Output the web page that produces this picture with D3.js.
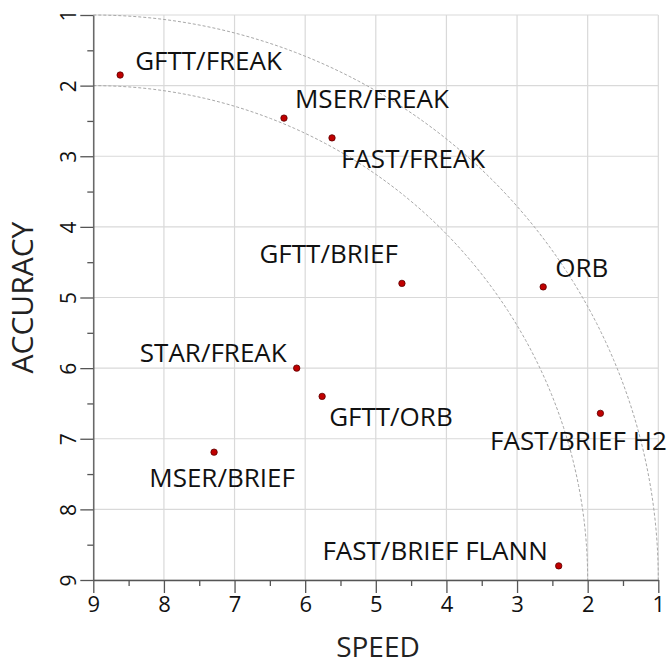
<!DOCTYPE html>
<html>
<head>
<meta charset="utf-8">
<script src="https://cdn.jsdelivr.net/npm/d3@7"></script>
<style>
  body { margin: 0; background: #fff; }
  svg { display: block; font-family: "Open Sans", sans-serif; }
</style>
</head>
<body>
<div id="container"></div>
<script>
// data
var names = ['GFTT/FREAK', 'MSER/FREAK', 'FAST/FREAK', 'GFTT/BRIEF', 'ORB',
  'STAR/FREAK', 'GFTT/ORB', 'MSER/BRIEF', 'FAST/BRIEF H2', 'FAST/BRIEF FLANN']
var speed = [8.62, 6.30, 5.62, 4.63, 2.63, 6.12, 5.76, 7.29, 1.82, 2.41]
var accuracy = [1.85, 2.46, 2.74, 4.80, 4.85, 6.00, 6.40, 7.19, 6.64, 8.80]
var majorTicks = [9, 8, 7, 6, 5, 4, 3, 2, 1]
var minorTicks = [8.5, 7.5, 6.5, 5.5, 4.5, 3.5, 2.5, 1.5]
var arcRadii = [8, 7]

// label placement, in px from the dot
var labelPos = [
  { dx: 15, dy: -5, anchor: 'start' },
  { dx: 11, dy: -10, anchor: 'start' },
  { dx: 9, dy: 30, anchor: 'start' },
  { dx: -4, dy: -20, anchor: 'end' },
  { dx: 12, dy: -10, anchor: 'start' },
  { dx: -10, dy: -6, anchor: 'end' },
  { dx: 7, dy: 30, anchor: 'start' },
  { dx: 8, dy: 35, anchor: 'middle' },
  { dx: -22, dy: 37, anchor: 'middle' },
  { dx: -11, dy: -6, anchor: 'end' }
]

var width = 668, height = 665
var m = { left: 93.3, right: 658.3, top: 15, bottom: 580 }

var svg = d3.select('#container').append('svg')
  .attr('width', width)
  .attr('height', height)

var x = d3.scaleLinear().domain([9, 1]).range([m.left, m.right])
var y = d3.scaleLinear().domain([1, 9]).range([m.top, m.bottom])

// grid
var grid = svg.append('g').attr('class', 'grid')
grid.selectAll('.gx').data(majorTicks).enter().append('line')
  .attr('x1', d => x(d)).attr('x2', d => x(d))
  .attr('y1', m.top).attr('y2', m.bottom)
  .attr('stroke', '#d9d9d9').attr('stroke-width', 1.2)
grid.selectAll('.gy').data(majorTicks).enter().append('line')
  .attr('y1', d => y(d)).attr('y2', d => y(d))
  .attr('x1', m.left).attr('x2', m.right)
  .attr('stroke', '#d9d9d9').attr('stroke-width', 1.2)

// dashed quarter arcs centred at (9, 9)
var arcLine = d3.line().x(d => d[0]).y(d => d[1])
arcRadii.forEach(function (r) {
  var pts = d3.range(0, 91).map(function (a) {
    var t = a * Math.PI / 180
    return [x(9 - r * Math.sin(t)), y(9 - r * Math.cos(t))]
  })
  svg.append('path')
    .attr('d', arcLine(pts))
    .attr('fill', 'none')
    .attr('stroke', '#a8a8a8')
    .attr('stroke-width', 1)
    .attr('stroke-dasharray', '3,2')
})

// axes
var axisColor = '#555'
var xAxis = svg.append('g')
  .attr('transform', 'translate(0,' + m.bottom + ')')
  .call(d3.axisBottom(x).tickValues(majorTicks).tickSize(13).tickSizeOuter(0).tickPadding(3))
var xMinor = svg.append('g')
  .attr('transform', 'translate(0,' + m.bottom + ')')
  .call(d3.axisBottom(x).tickValues(minorTicks).tickSize(6).tickSizeOuter(0).tickFormat(''))

var yAxis = svg.append('g')
  .attr('transform', 'translate(' + m.left + ',0)')
  .call(d3.axisLeft(y).tickValues(majorTicks).tickSize(13).tickSizeOuter(0))
var yMinor = svg.append('g')
  .attr('transform', 'translate(' + m.left + ',0)')
  .call(d3.axisLeft(y).tickValues(minorTicks).tickSize(6).tickSizeOuter(0).tickFormat(''))

svg.selectAll('.domain, .tick line').attr('stroke', axisColor).attr('stroke-width', 1.3)
xMinor.select('.domain').remove()
yMinor.select('.domain').remove()

xAxis.selectAll('.tick text')
  .attr('font-family', '"Open Sans", sans-serif')
  .attr('font-size', 22)
  .attr('fill', '#111')

yAxis.selectAll('.tick text')
  .attr('font-family', '"Open Sans", sans-serif')
  .attr('font-size', 21)
  .attr('fill', '#111')
  .attr('x', null).attr('dy', null)
  .attr('text-anchor', 'middle')
  .attr('transform', 'translate(-17,0) rotate(-90)')

// axis titles
svg.append('text')
  .attr('x', 378)
  .attr('y', 657)
  .attr('text-anchor', 'middle')
  .attr('font-size', 28)
  .attr('fill', '#222')
  .text('SPEED')

svg.append('text')
  .attr('transform', 'translate(33,' + (m.top + m.bottom) / 2 + ') rotate(-90)')
  .attr('text-anchor', 'middle')
  .attr('font-size', 30)
  .attr('fill', '#222')
  .text('ACCURACY')

// points and labels
var pts = names.map(function (n, i) {
  return { name: n, speed: speed[i], acc: accuracy[i], pos: labelPos[i] }
})

var node = svg.append('g').selectAll('.pt').data(pts).enter().append('g')
  .attr('transform', d => 'translate(' + x(d.speed) + ',' + y(d.acc) + ')')

node.append('circle')
  .attr('r', 3.2)
  .attr('fill', '#c00000')
  .attr('stroke', '#5a0000')
  .attr('stroke-width', 0.8)

node.append('text')
  .attr('x', d => d.pos.dx)
  .attr('y', d => d.pos.dy)
  .attr('text-anchor', d => d.pos.anchor)
  .attr('font-size', 26)
  .attr('fill', '#111')
  .text(d => d.name)
</script>
</body>
</html>
